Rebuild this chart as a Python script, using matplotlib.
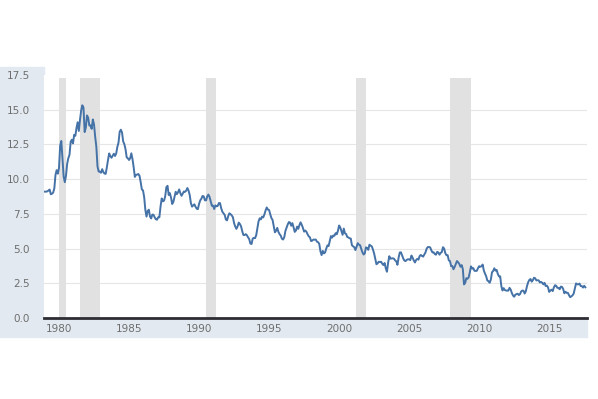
import numpy as np
import matplotlib
matplotlib.use("Agg")
import matplotlib.pyplot as plt
from matplotlib.patches import Rectangle

# monthly 10-year treasury yield, Jan 1979 .. Aug 2017
start_year = 1979
yields = [
    9.10, 9.10, 9.12, 9.18, 9.25, 8.91, 8.95, 9.03, 9.33, 10.30, 10.65, 10.39,
    10.80, 12.41, 12.75, 11.47, 10.18, 9.78, 10.25, 11.10, 11.51, 11.75, 12.68, 12.84,
    12.57, 13.19, 13.12, 13.68, 14.10, 13.47, 14.28, 14.94, 15.32, 15.15, 13.39, 13.72,
    14.59, 14.43, 13.86, 13.87, 13.62, 14.30, 13.95, 13.06, 12.34, 10.91, 10.55, 10.54,
    10.46, 10.72, 10.51, 10.40, 10.38, 10.85, 11.38, 11.85, 11.65, 11.54, 11.69, 11.83,
    11.67, 11.84, 12.32, 12.63, 13.41, 13.56, 13.36, 12.72, 12.52, 12.16, 11.57, 11.50,
    11.38, 11.51, 11.86, 11.43, 10.85, 10.16, 10.31, 10.33, 10.37, 10.24, 9.78, 9.26,
    9.19, 8.70, 7.78, 7.30, 7.71, 7.80, 7.30, 7.17, 7.45, 7.43, 7.25, 7.11,
    7.08, 7.25, 7.25, 8.02, 8.61, 8.40, 8.45, 8.76, 9.42, 9.52, 8.86, 8.99,
    8.67, 8.21, 8.37, 8.72, 9.09, 8.92, 9.06, 9.26, 8.98, 8.80, 8.96, 9.11,
    9.09, 9.17, 9.36, 9.18, 8.86, 8.28, 8.02, 8.11, 8.19, 8.01, 7.87, 7.84,
    8.21, 8.47, 8.59, 8.79, 8.76, 8.48, 8.47, 8.75, 8.89, 8.72, 8.39, 8.08,
    8.09, 7.85, 8.11, 8.04, 8.07, 8.28, 8.27, 7.90, 7.65, 7.53, 7.42, 7.09,
    7.03, 7.34, 7.54, 7.48, 7.39, 7.26, 6.84, 6.59, 6.42, 6.59, 6.87, 6.77,
    6.60, 6.26, 5.98, 5.97, 6.04, 5.96, 5.81, 5.68, 5.36, 5.33, 5.72, 5.77,
    5.75, 5.97, 6.48, 6.97, 7.18, 7.10, 7.30, 7.24, 7.46, 7.74, 7.96, 7.81,
    7.78, 7.47, 7.20, 7.06, 6.63, 6.17, 6.28, 6.49, 6.20, 6.04, 5.93, 5.71,
    5.65, 5.81, 6.27, 6.51, 6.74, 6.91, 6.87, 6.64, 6.83, 6.53, 6.20, 6.30,
    6.58, 6.42, 6.69, 6.89, 6.71, 6.49, 6.22, 6.30, 6.21, 6.03, 5.88, 5.81,
    5.54, 5.57, 5.65, 5.64, 5.65, 5.50, 5.46, 5.34, 4.81, 4.53, 4.83, 4.65,
    4.72, 5.00, 5.23, 5.18, 5.54, 5.90, 5.79, 5.94, 5.92, 6.11, 6.03, 6.28,
    6.66, 6.52, 6.26, 5.99, 6.44, 6.10, 6.05, 5.83, 5.80, 5.74, 5.72, 5.24,
    5.16, 5.10, 4.89, 5.14, 5.39, 5.28, 5.24, 4.97, 4.73, 4.57, 4.65, 5.09,
    5.04, 4.91, 5.28, 5.21, 5.16, 4.93, 4.65, 4.26, 3.87, 3.94, 4.05, 4.03,
    4.05, 3.90, 3.81, 3.96, 3.57, 3.33, 3.98, 4.45, 4.27, 4.29, 4.30, 4.27,
    4.15, 4.08, 3.83, 4.35, 4.72, 4.73, 4.50, 4.28, 4.13, 4.10, 4.19, 4.23,
    4.22, 4.17, 4.50, 4.34, 4.14, 4.00, 4.18, 4.26, 4.20, 4.46, 4.54, 4.47,
    4.42, 4.57, 4.72, 4.99, 5.11, 5.11, 5.09, 4.88, 4.72, 4.73, 4.60, 4.56,
    4.76, 4.72, 4.56, 4.69, 4.75, 5.10, 5.00, 4.67, 4.52, 4.53, 4.15, 4.10,
    3.74, 3.74, 3.51, 3.68, 3.88, 4.10, 4.01, 3.89, 3.69, 3.81, 3.53, 2.42,
    2.52, 2.87, 2.82, 2.93, 3.29, 3.72, 3.56, 3.59, 3.40, 3.39, 3.40, 3.59,
    3.73, 3.69, 3.73, 3.85, 3.42, 3.20, 3.01, 2.70, 2.65, 2.54, 2.76, 3.29,
    3.39, 3.58, 3.41, 3.46, 3.17, 3.00, 3.00, 2.30, 1.98, 2.15, 2.01, 1.98,
    1.97, 1.97, 2.17, 2.05, 1.80, 1.62, 1.53, 1.68, 1.72, 1.75, 1.65, 1.72,
    1.91, 1.98, 1.96, 1.76, 1.93, 2.30, 2.58, 2.74, 2.81, 2.62, 2.72, 2.90,
    2.86, 2.71, 2.72, 2.71, 2.56, 2.60, 2.54, 2.42, 2.53, 2.30, 2.33, 2.21,
    1.88, 1.98, 2.04, 1.94, 2.20, 2.36, 2.32, 2.17, 2.17, 2.07, 2.26, 2.24,
    2.09, 1.78, 1.89, 1.81, 1.81, 1.64, 1.50, 1.56, 1.63, 1.76, 2.14, 2.49,
    2.43, 2.42, 2.48, 2.30, 2.30, 2.19, 2.32, 2.21,
]

# recessions (start, end) as decimal years
recessions = [(1980.0, 1980.5), (1981.5, 1982.9), (1990.5, 1991.2),
              (2001.2, 2001.9), (2007.9, 2009.45)]

yticks = [0.0, 2.5, 5.0, 7.5, 10.0, 12.5, 15.0, 17.5]
xticks = [1980, 1985, 1990, 1995, 2000, 2005, 2010, 2015]

t = start_year + np.arange(len(yields)) / 12.0

W, H = 598, 399
fig = plt.figure(figsize=(W / 100, H / 100), dpi=100)
fig.patch.set_facecolor("white")

panel = "#e2e9f0"
# left axis panel and bottom strip, in pixels (drawn behind the axes)
fig.patches.append(Rectangle((0, (H - 337) / H), 44 / W, 270 / H,
                             transform=fig.transFigure, color=panel, zorder=-5))
fig.patches.append(Rectangle((44 / W, (H - 337) / H), 543 / W, 19 / H,
                             transform=fig.transFigure, color=panel, zorder=-5))

ax = fig.add_axes([44 / W, (H - 318) / H, 543 / W, 243 / H])
ax.set_facecolor("white")

for a, b in recessions:
    ax.axvspan(a, b, ymin=0, ymax=17.3 / 17.5, color="#e1e1e1", lw=0, zorder=1)

for y in yticks[1:-1]:
    ax.axhline(y, color="#e6e6e6", lw=0.8, zorder=0.5)

ax.plot(t, yields, color="#4572a7", lw=1.4, zorder=3)

ax.set_xlim(1978.93, 2017.7)
ax.set_ylim(0, 17.5)
ax.set_yticks(yticks)
ax.set_yticklabels(["%.1f" % v for v in yticks])
ax.set_xticks(xticks)
ax.set_xticklabels([str(v) for v in xticks])
ax.tick_params(axis="both", length=0, labelsize=7.5, colors="#6e6e6e")
ax.tick_params(axis="y", pad=10)
ax.tick_params(axis="x", pad=4)

for s in ["top", "right", "left"]:
    ax.spines[s].set_visible(False)
ax.spines["bottom"].set_color("#2d2d33")
ax.spines["bottom"].set_linewidth(2)
ax.spines["bottom"].set_zorder(4)

fig.savefig("out.png", dpi=100)
